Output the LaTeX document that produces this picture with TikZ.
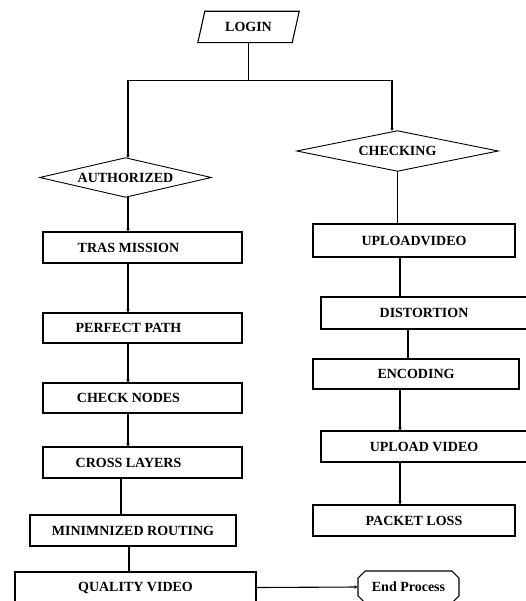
\documentclass[tikz,border=0pt]{standalone}
\usepackage{fontspec}
\setmainfont{Liberation Serif}
\usetikzlibrary{arrows.meta,shapes.misc,calc}
\begin{document}
\begin{tikzpicture}[x=1pt,y=-1pt,
  every node/.style={font=\fontsize{14}{16}\selectfont\bfseries, inner sep=0pt},
  stepbox/.style={draw, line width=1.1pt, minimum height=31pt},
  lefttext/.style={execute at begin node={\hspace*{-28pt}}},
  conn/.style={line width=1.1pt},
  arr/.style={line width=1.1pt, -{Stealth[length=3pt,width=3.5pt]}},
  dia/.style={line width=0.9pt}
]
\useasboundingbox (0,0) rectangle (526,601);

% start
\node[minimum width=94pt, minimum height=31pt] (login) at (248.5,27) {LOGIN};
\draw[line width=1.1pt] ($(login.south west)+(-3.5,0)$) -- ($(login.north west)+(3.5,0)$)
  -- ($(login.north east)+(3.5,0)$) -- ($(login.south east)+(-3.5,0)$) -- cycle;

% decisions
\node[minimum width=171pt, minimum height=39pt] (auth) at (125.5,177.5) {AUTHORIZED};
\draw[dia] (auth.west) -- (auth.north) -- (auth.east) -- (auth.south) -- cycle;
\node[minimum width=201pt, minimum height=40pt] (chkg) at (397.5,151) {CHECKING};
\draw[dia] (chkg.west) -- (chkg.north) -- (chkg.east) -- (chkg.south) -- cycle;

% left column
\node[stepbox, lefttext, minimum width=199pt] (tras) at (142.5,247.5) {TRAS MISSION};
\node[stepbox, lefttext, minimum width=199pt, minimum height=30pt] (perf) at (142.5,328) {PERFECT PATH};
\node[stepbox, lefttext, minimum width=199pt, minimum height=30pt] (chkn) at (142.5,398) {CHECK NODES};
\node[stepbox, lefttext, minimum width=199pt] (cross) at (142.5,462.5) {CROSS LAYERS};
\node[stepbox, minimum width=206pt] (minr) at (133,530.5) {MINIMNIZED ROUTING};
\node[stepbox, minimum width=241pt] (qual) at (135.5,587.5) {QUALITY VIDEO};

% right column
\node[stepbox, minimum width=202pt, minimum height=33pt] (up1) at (414,240.5) {UPLOADVIDEO};
\node[stepbox, minimum width=206pt, minimum height=32pt] (dist) at (424,313) {DISTORTION};
\node[stepbox, minimum width=206pt, minimum height=30pt] (enc) at (416,374) {ENCODING};
\node[stepbox, minimum width=206pt] (up2) at (424,446.5) {UPLOAD VIDEO};
\node[stepbox, minimum width=202pt] (pkt) at (414,520.5) {PACKET LOSS};

% end
\node[draw, line width=1.1pt, chamfered rectangle, chamfered rectangle xsep=4pt,
  minimum width=101pt, minimum height=32pt] (endp) at (408.5,587) {End Process};

% connectors
\coordinate (split) at ($(login.south)+(0,37.5)$);
\draw[conn] (login.south) -- (split);
\draw[arr] (split) -| ([xshift=2.5pt]auth.north);
\draw[arr] (split) -| ([xshift=-5.5pt]chkg.north);

\draw[arr] ([xshift=2.5pt]auth.south) -- ([xshift=2.5pt]auth.south |- tras.north);
\draw[arr] ([xshift=-14.5pt]tras.south) -- ([xshift=-14.5pt]perf.north);
\draw[arr] ([xshift=-14.5pt]perf.south) -- ([xshift=-14.5pt]chkn.north);
\draw[arr] ([xshift=-14.5pt]chkn.south) -- ([xshift=-14.5pt]cross.north);
\draw[conn] ([xshift=-21.5pt]cross.south) -- ([xshift=-21.5pt]cross.south |- minr.north);
\draw[conn] ([xshift=-4pt]minr.south) -- ([xshift=-4pt]minr.south |- qual.north);
\draw[arr] (qual.east) -- (endp.west);

\draw[conn] (chkg.south) -- (chkg.south |- up1.north);
\draw[conn] ([xshift=-14pt]up1.south) -- ([xshift=-14pt]up1.south |- dist.north);
\draw[conn] ([xshift=-16pt]dist.south) -- ([xshift=-16pt]dist.south |- enc.north);
\draw[arr] ([xshift=-16pt]enc.south) -- ([xshift=-16pt]enc.south |- up2.north);
\draw[arr] ([xshift=-24pt]up2.south) -- ([xshift=-24pt]up2.south |- pkt.north);
\end{tikzpicture}
\end{document}
